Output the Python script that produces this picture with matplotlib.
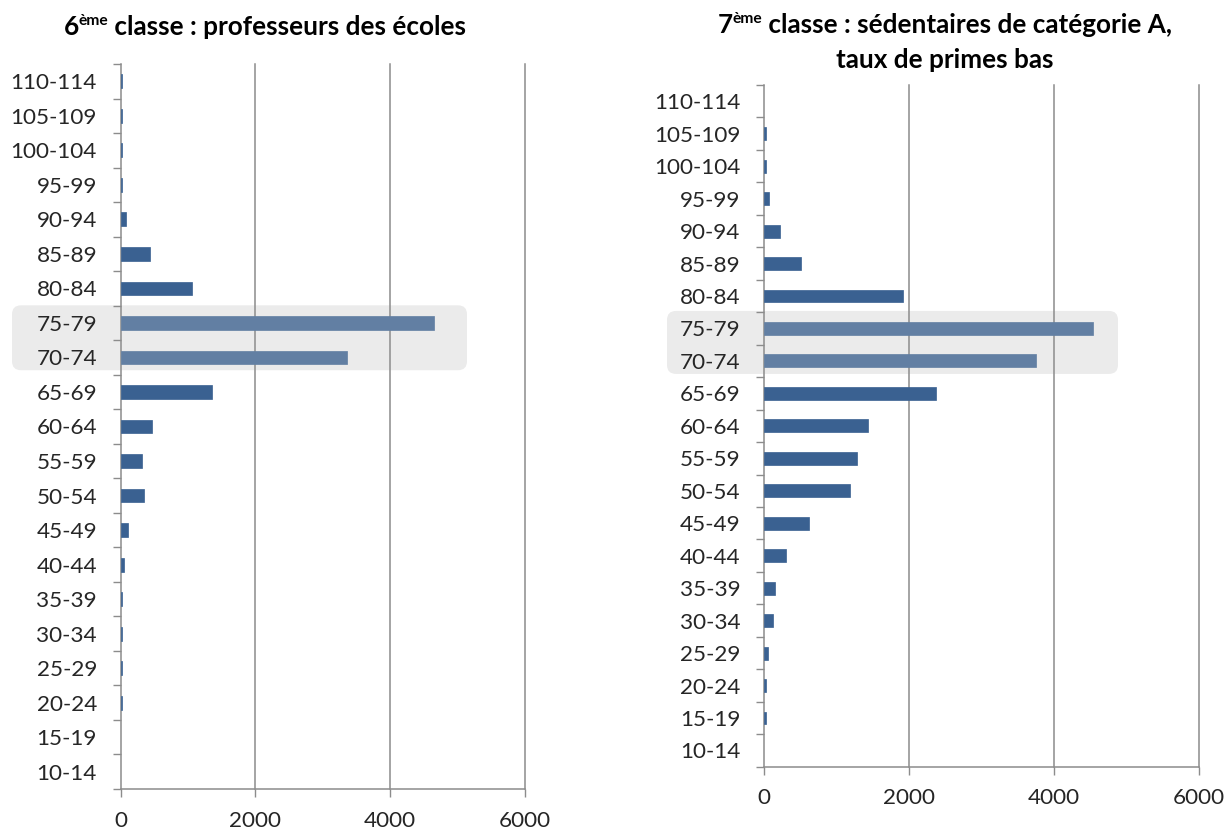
import matplotlib
matplotlib.use('Agg')
import matplotlib.pyplot as plt
from matplotlib.patches import FancyBboxPatch
from matplotlib.transforms import IdentityTransform
import numpy as np

# ---------------- data ----------------
categories = ['10-14', '15-19', '20-24', '25-29', '30-34', '35-39', '40-44',
              '45-49', '50-54', '55-59', '60-64', '65-69', '70-74', '75-79',
              '80-84', '85-89', '90-94', '95-99', '100-104', '105-109', '110-114']
values_left = [0, 0, 20, 20, 15, 20, 55, 115, 350, 315, 465, 1350, 3365, 4655,
               1055, 430, 75, 20, 20, 20, 20]
values_right = [0, 20, 25, 45, 125, 148, 295, 617, 1182, 1274, 1426, 2372, 3752,
                4538, 1922, 500, 211, 60, 20, 25, 0]
highlighted = ['70-74', '75-79']
xticks = [0, 2000, 4000, 6000]
title_left = [('6', 1.0, 0), ('ème', 0.6, 10), (' classe : professeurs des écoles', 1.0, 0)]
title_right_1 = [('7', 1.0, 0), ('ème', 0.6, 10), (' classe : sédentaires de catégorie A,', 1.0, 0)]
title_right_2 = [('taux de primes bas', 1.0, 0)]

# ---------------- style ----------------
plt.rcParams['font.family'] = ['Lato', 'DejaVu Sans']
DARK = '#3a6191'
LIGHT = '#627fa3'
GRID = '#8c8c8c'
BOX = '#ebebeb'
TXT = '#262626'
TICK_FS = 16.2
TITLE_FS = 18.8

W, H = 1229, 831
fig = plt.figure(figsize=(W / 100, H / 100), dpi=100)


def px_axes(l, t, r, b):
    return fig.add_axes([l / W, 1 - b / H, (r - l) / W, (b - t) / H])


axL = px_axes(120.7, 64, 524.7, 789)
axR = px_axes(764.3, 85, 1198.7, 766.7)


def draw(ax, vals):
    n = len(categories)
    y = np.arange(n)
    colors = [LIGHT if c in highlighted else DARK for c in categories]
    lws = [0.5 if v > 0 else 0.0 for v in vals]
    ax.barh(y, vals, height=0.4, color=colors, edgecolor=colors,
            linewidth=lws, zorder=3)
    ax.set_xlim(0, 6000)
    ax.set_ylim(-0.5, n - 0.5)
    ax.set_xticks(xticks)
    ax.set_xticklabels([str(v) for v in xticks])
    ax.set_yticks(y)
    ax.set_yticklabels(categories)
    ax.set_yticks(np.arange(-0.5, n), minor=True)
    ax.tick_params(axis='y', which='major', length=0, pad=17, labelsize=TICK_FS,
                   labelcolor=TXT)
    ax.tick_params(axis='y', which='minor', length=5.5, width=1, color=GRID)
    ax.tick_params(axis='x', which='major', length=5.5, width=1, color=GRID,
                   pad=10, labelsize=TICK_FS, labelcolor=TXT)
    for v in xticks[1:]:
        ax.axvline(v, color=GRID, lw=1.1, zorder=1, clip_on=False)
    for s in ['top', 'right']:
        ax.spines[s].set_visible(False)
    for s in ['left', 'bottom']:
        ax.spines[s].set_color(GRID)
        ax.spines[s].set_linewidth(1.1)
    ax.patch.set_alpha(0)


draw(axL, values_left)
draw(axR, values_right)


def highlight_box(ax, x0_px, x1_px, y_lo, y_hi):
    fig.canvas.draw()
    _, py0 = ax.transData.transform((0, y_lo))
    _, py1 = ax.transData.transform((0, y_hi))
    box = FancyBboxPatch((x0_px, py0), x1_px - x0_px, py1 - py0,
                         boxstyle='round,pad=0,rounding_size=9',
                         transform=IdentityTransform(), facecolor=BOX,
                         edgecolor='none', zorder=-1)
    fig.patches.append(box)


i_lo = categories.index(highlighted[0])
i_hi = categories.index(highlighted[1])
highlight_box(axL, 12, 467, i_lo - 0.37, i_hi + 0.51)
highlight_box(axR, 667, 1118, i_lo - 0.40, i_hi + 0.54)


def title(cx, y_base_px, parts):
    r = fig.canvas.get_renderer()
    texts = []
    for txt, sc, dy in parts:
        t = fig.text(0, 0, txt, fontsize=TITLE_FS * sc, fontweight='bold',
                     transform=IdentityTransform(), va='baseline', ha='left',
                     color='black')
        texts.append((t, dy))
    widths = [t.get_window_extent(r).width for t, _ in texts]
    x = cx - sum(widths) / 2
    for (t, dy), w in zip(texts, widths):
        t.set_position((x, H - y_base_px + dy))
        x += w


title(265, 35, title_left)
title(945, 33, title_right_1)
title(945, 68, title_right_2)

fig.savefig('out.png', dpi=100)
